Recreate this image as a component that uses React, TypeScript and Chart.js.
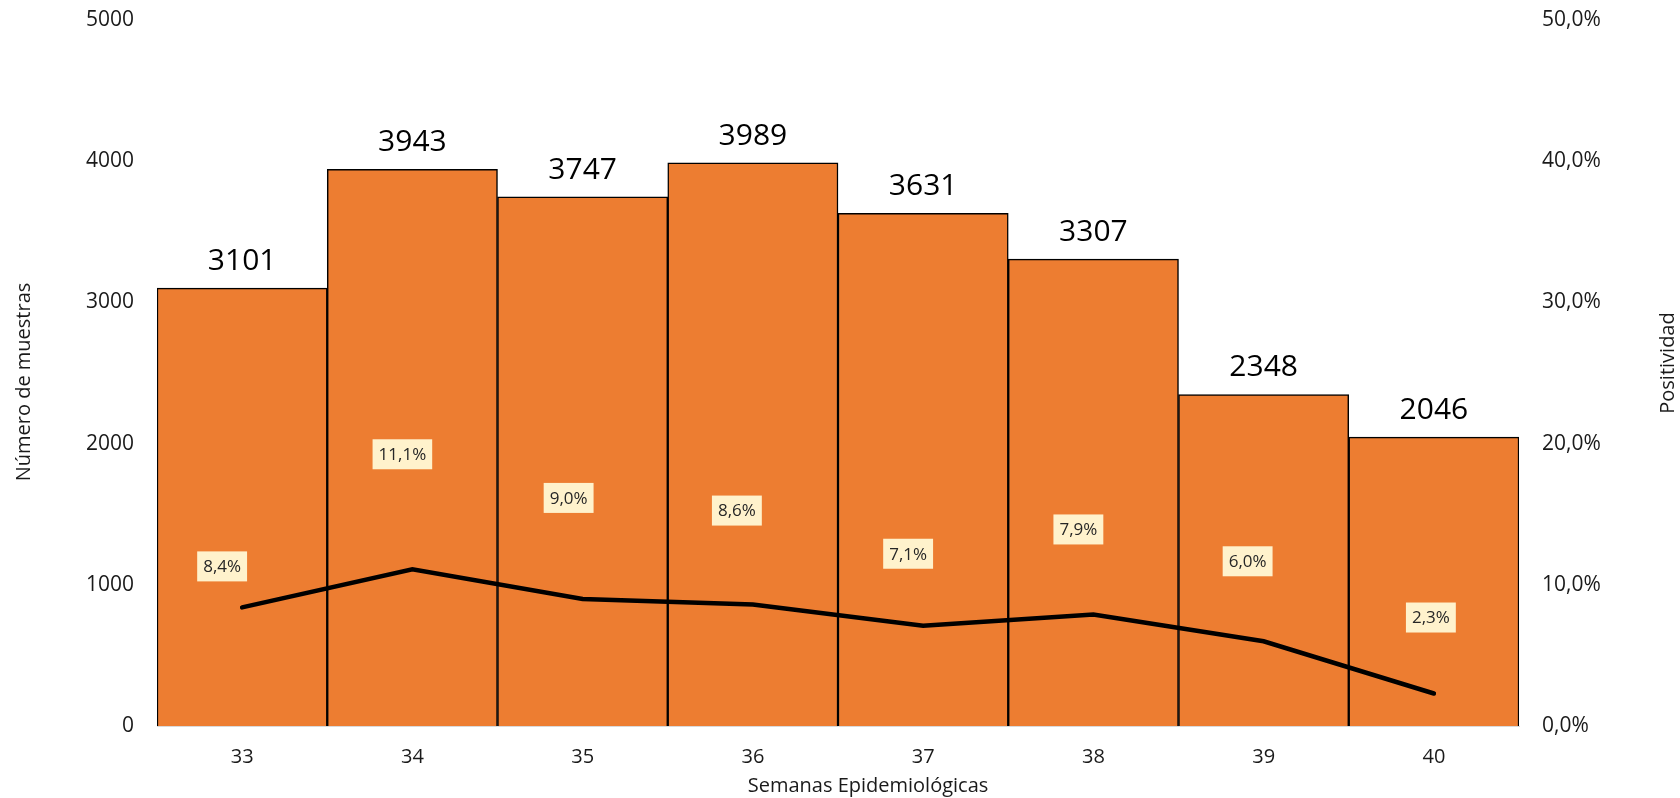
import React, { useEffect, useRef } from "react";
import { Chart, registerables } from "chart.js";

Chart.register(...registerables);

const weeks = ["33", "34", "35", "36", "37", "38", "39", "40"];
const samples = [3101, 3943, 3747, 3989, 3631, 3307, 2348, 2046];
const positivity = [8.4, 11.1, 9.0, 8.6, 7.1, 7.9, 6.0, 2.3];
const leftMax = 5000;
const leftStep = 1000;
const rightMax = 50;
const rightStep = 10;
const labelOffsetX = [-20, -10, -14, -16, -15, -15, -16, -3];
const labelOffsetY = [-41, -115, -101, -94, -72, -85, -80, -76];

const FONT = '"Open Sans", "DejaVu Sans", sans-serif';
const fmtPct = (v: number) => Number(v).toFixed(1).replace(".", ",") + "%";

const overlay = {
  id: "overlay",
  afterDatasetsDraw(chart: any) {
    const ctx = chart.ctx as CanvasRenderingContext2D;
    const ca = chart.chartArea;
    const barMeta = chart.getDatasetMeta(0);
    const lineMeta = chart.getDatasetMeta(1);
    ctx.save();
    // bar value labels
    ctx.font = `30px ${FONT}`;
    ctx.fillStyle = "#000000";
    ctx.textAlign = "center";
    ctx.textBaseline = "alphabetic";
    barMeta.data.forEach((el: any, i: number) => {
      ctx.fillText(String(samples[i]), el.x, el.y - 18);
    });
    // positivity labels
    ctx.font = `17px ${FONT}`;
    ctx.textBaseline = "middle";
    lineMeta.data.forEach((pt: any, i: number) => {
      const t = fmtPct(positivity[i]);
      const w = ctx.measureText(t).width + 12;
      const h = 30;
      const cx = pt.x + labelOffsetX[i];
      const cy = pt.y + labelOffsetY[i];
      ctx.fillStyle = "#FFF2CC";
      ctx.fillRect(cx - w / 2, cy - h / 2, w, h);
      ctx.fillStyle = "#262626";
      ctx.fillText(t, cx, cy + 1);
    });
    // axis titles
    ctx.font = `20px ${FONT}`;
    ctx.fillStyle = "#1a1a1a";
    const midY = ca.top + ca.height / 2;
    ctx.save();
    ctx.translate(24, midY + 9);
    ctx.rotate(-Math.PI / 2);
    ctx.fillText("Número de muestras", 0, 0);
    ctx.restore();
    ctx.save();
    ctx.translate(chart.width - 12, midY - 10);
    ctx.rotate(-Math.PI / 2);
    ctx.fillText("Positividad", 0, 0);
    ctx.restore();
    ctx.fillText("Semanas Epidemiológicas", ca.left + ca.width / 2 + 30, chart.height - 12);
    ctx.restore();
  },
};

export default function App() {
  const ref = useRef<HTMLCanvasElement | null>(null);
  useEffect(() => {
    if (!ref.current) return;
    const chart = new Chart(ref.current, {
      type: "bar",
      data: {
        labels: weeks,
        datasets: [
          {
            type: "bar",
            data: samples,
            backgroundColor: "#ED7D31",
            borderColor: "#000000",
            borderWidth: 1.5,
            barPercentage: 1,
            categoryPercentage: 1,
            yAxisID: "y",
            order: 1,
          },
          {
            type: "line",
            data: positivity,
            borderColor: "#000000",
            borderWidth: 4.5,
            pointRadius: 0,
            tension: 0,
            borderCapStyle: "round",
            yAxisID: "y1",
            order: 0,
          },
        ] as any,
      },
      options: {
        animation: false,
        responsive: true,
        maintainAspectRatio: false,
        layout: { padding: { top: 20, left: 0, right: 0, bottom: 0 } },
        plugins: { legend: { display: false }, tooltip: { enabled: false } },
        scales: {
          x: {
            grid: { display: false, drawTicks: false },
            border: { display: true, color: "#D9D9D9", width: 1 },
            ticks: { font: { family: FONT, size: 20 }, color: "#1a1a1a", padding: 19 },
            afterFit: (s: any) => {
              s.height = 72;
              s.paddingLeft = 0;
              s.paddingRight = 0;
            },
          },
          y: {
            position: "left",
            min: 0,
            max: leftMax,
            grid: { display: false, drawTicks: false },
            border: { display: false },
            ticks: {
              stepSize: leftStep,
              padding: 23,
              font: { family: FONT, size: 21 },
              color: "#1a1a1a",
              callback: (v: any) => String(v),
            },
            afterFit: (s: any) => {
              s.width = 157;
              s.paddingTop = 0;
              s.paddingBottom = 0;
            },
          },
          y1: {
            position: "right",
            min: 0,
            max: rightMax,
            grid: { display: false, drawTicks: false },
            border: { display: false },
            ticks: {
              stepSize: rightStep,
              padding: 23,
              font: { family: FONT, size: 21 },
              color: "#1a1a1a",
              callback: (v: any) => fmtPct(v),
            },
            afterFit: (s: any) => {
              s.width = 161;
              s.paddingTop = 0;
              s.paddingBottom = 0;
            },
          },
        },
      } as any,
      plugins: [overlay],
    });
    return () => chart.destroy();
  }, []);
  return (
    <div style={{ position: "absolute", left: 0, top: 0, width: 1680, height: 798 }}>
      <canvas ref={ref} />
    </div>
  );
}
